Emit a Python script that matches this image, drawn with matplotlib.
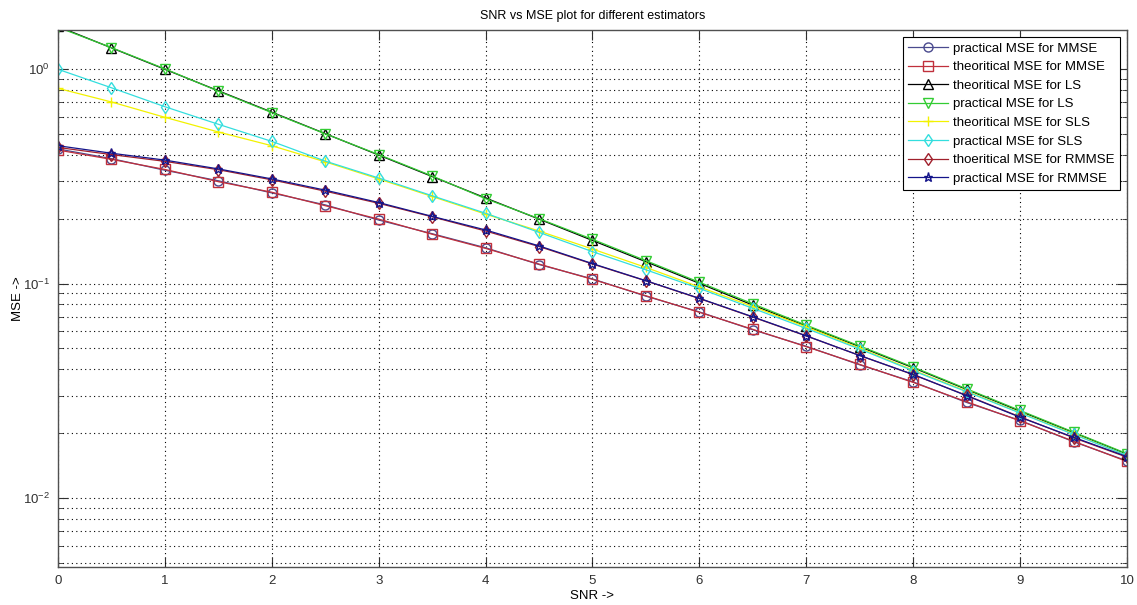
import numpy as np
import matplotlib
matplotlib.use("Agg")
import matplotlib.pyplot as plt
from matplotlib.ticker import LogLocator, NullFormatter

plt.rcParams["font.family"] = ["Liberation Sans", "DejaVu Sans"]
plt.rcParams["mathtext.default"] = "regular"
plt.rcParams["axes.unicode_minus"] = False

# SNR grid (0 to 10 in steps of 0.5)
snr = [0, 0.5, 1, 1.5, 2, 2.5, 3, 3.5, 4, 4.5, 5,
       5.5, 6, 6.5, 7, 7.5, 8, 8.5, 9, 9.5, 10]

mmse_prac = [0.425, 0.383, 0.338, 0.302, 0.265, 0.233, 0.198, 0.171, 0.147, 0.1228, 0.1052,
             0.0874, 0.0738, 0.0609, 0.0510, 0.0418, 0.0348, 0.0279, 0.0230, 0.0183, 0.0149]
mmse_theo = [0.420, 0.380, 0.341, 0.299, 0.267, 0.231, 0.200, 0.170, 0.146, 0.1234, 0.1047,
             0.0878, 0.0735, 0.0612, 0.0508, 0.0420, 0.0346, 0.0281, 0.0229, 0.0184, 0.0148]
ls_theo = [1.585, 1.259, 1.000, 0.794, 0.631, 0.501, 0.398, 0.316, 0.251, 0.200, 0.159,
           0.1265, 0.1003, 0.0794, 0.0634, 0.0508, 0.0405, 0.0321, 0.0254, 0.0202, 0.0160]
ls_prac = [1.570, 1.262, 1.005, 0.790, 0.628, 0.500, 0.400, 0.318, 0.249, 0.201, 0.161,
           0.1280, 0.1015, 0.0805, 0.0640, 0.0512, 0.0408, 0.0323, 0.0256, 0.0203, 0.0161]
sls_theo = [0.815, 0.704, 0.597, 0.510, 0.440, 0.370, 0.308, 0.255, 0.211, 0.176, 0.145,
            0.1190, 0.0965, 0.0782, 0.0628, 0.0500, 0.0395, 0.0315, 0.0250, 0.0199, 0.0158]
sls_prac = [1.000, 0.820, 0.669, 0.554, 0.461, 0.373, 0.311, 0.257, 0.213, 0.1735, 0.141,
            0.1160, 0.0950, 0.0767, 0.0618, 0.0495, 0.0392, 0.0313, 0.0249, 0.0198, 0.0158]
rmmse_theo = [0.432, 0.400, 0.372, 0.340, 0.305, 0.270, 0.237, 0.205, 0.176, 0.149, 0.1235,
              0.1030, 0.0852, 0.0698, 0.0570, 0.0462, 0.0376, 0.0301, 0.0239, 0.0191, 0.0155]
rmmse_prac = [0.440, 0.406, 0.377, 0.343, 0.308, 0.273, 0.239, 0.206, 0.178, 0.150, 0.124,
              0.1032, 0.0854, 0.0700, 0.0571, 0.0462, 0.0377, 0.0300, 0.0238, 0.0192, 0.0156]

series = [
    (mmse_prac, "practical MSE for MMSE", "#4a4a8e", "o"),
    (mmse_theo, "theoritical MSE for MMSE", "#c0303c", "s"),
    (ls_theo, "theoritical MSE for LS", "#000000", "^"),
    (ls_prac, "practical MSE for LS", "#33cc33", "v"),
    (sls_theo, "theoritical MSE for SLS", "#f2f200", "+"),
    (sls_prac, "practical MSE for SLS", "#33dede", "d"),
    (rmmse_theo, "thoeritical MSE for RMMSE", "#a0202c", "d"),
    (rmmse_prac, "practical MSE for RMMSE", "#14148a", "*"),
]

fig = plt.figure(figsize=(11.37, 6.05), dpi=100)
ax = fig.add_axes([0.051, 0.0633, 0.9402, 0.8871])

for vals, label, color, marker in series:
    ax.semilogy(snr, vals, color=color, marker=marker, markersize=6.5,
                markerfacecolor="none", markeredgewidth=1.0, linewidth=0.9,
                label=label)

ax.set_xlim(0, 10)
ax.set_ylim(0.00478, 1.525)
ax.set_xticks(range(0, 11))
ax.yaxis.set_major_locator(LogLocator(base=10))
ax.yaxis.set_minor_locator(LogLocator(base=10, subs=np.arange(2, 10)))
ax.yaxis.set_minor_formatter(NullFormatter())

ax.grid(True, which="major", linestyle=(0, (1, 3)), color="k", linewidth=0.8)
ax.yaxis.grid(True, which="minor", linestyle=(0, (1, 3)), color="k", linewidth=0.8)

ax.tick_params(which="both", direction="in", top=True, right=True,
               labelsize=9.5, colors="#303030")
ax.tick_params(which="major", length=7, pad=6)
ax.tick_params(which="minor", length=3.5)
for sp in ax.spines.values():
    sp.set_color("#505050")
    sp.set_linewidth(1.0)

ax.set_title("SNR vs MSE plot for different estimators", fontsize=9, pad=8)
ax.set_xlabel("SNR ->", fontsize=9.5, labelpad=2)
ax.set_ylabel("MSE ->", fontsize=9.5)
ax.yaxis.set_label_coords(-0.032, 0.5)

leg = ax.legend(loc="upper right", fontsize=9.5, handlelength=3.0,
                labelspacing=0.48, borderaxespad=0.55, fancybox=False,
                framealpha=1, edgecolor="k", handletextpad=0.4,
                borderpad=0.4)
leg.get_frame().set_linewidth(0.8)

fig.savefig("out.png", dpi=100, facecolor="white")
